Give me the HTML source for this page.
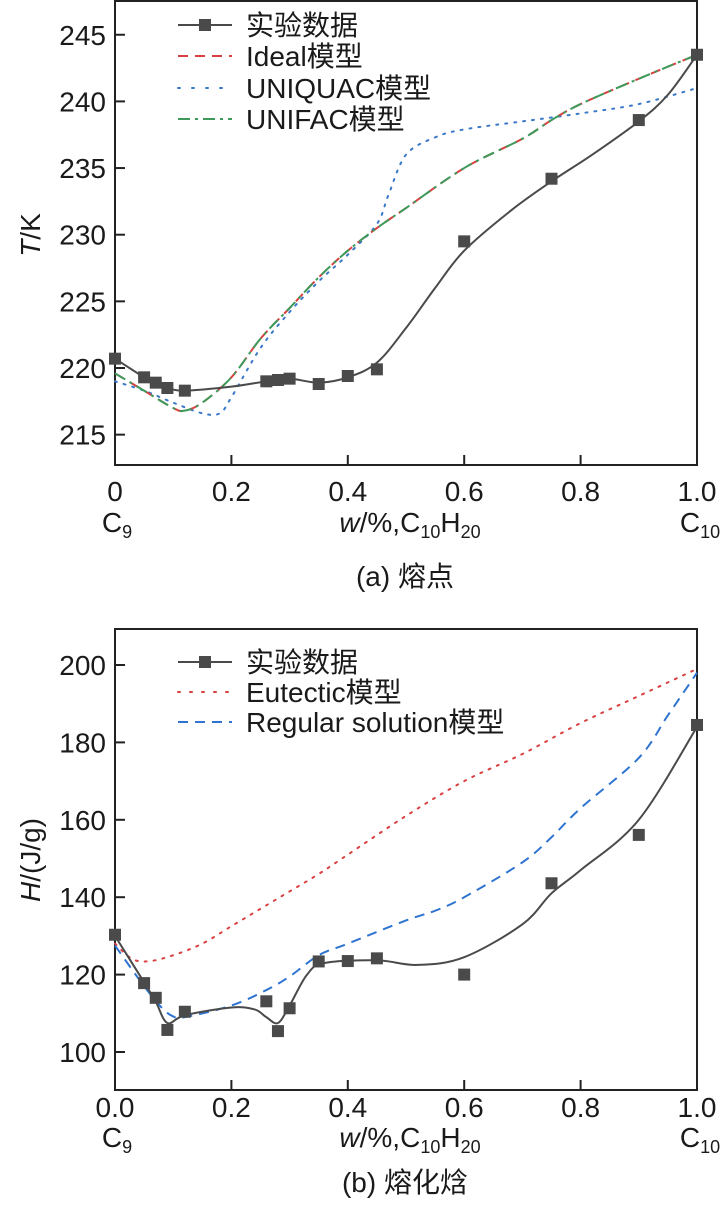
<!DOCTYPE html>
<html><head><meta charset="utf-8">
<style>
html,body{margin:0;padding:0;background:#fff;}
svg{display:block;}
text{font-family:"Liberation Sans","Noto Sans CJK SC",sans-serif;fill:#1a1a1a;}
</style></head>
<body>
<svg id="chart" width="727" height="1214" viewBox="0 0 727 1214" xmlns="http://www.w3.org/2000/svg"></svg>
<script>
// ---- Chart (a) data ----
const aExpX = [0,0.05,0.07,0.09,0.12,0.26,0.28,0.30,0.35,0.40,0.45,0.6,0.75,0.9,1.0];
const aExpT = [220.7,219.3,218.9,218.5,218.3,219.0,219.1,219.2,218.8,219.4,219.9,229.5,234.2,238.6,243.5];
const aFitX = [0,0.05,0.07,0.09,0.12,0.2,0.26,0.3,0.35,0.4,0.45,0.5,0.55,0.6,0.68,0.75,0.82,0.9,0.95,1.0];
const aFitT = [220.7,219.3,218.8,218.5,218.3,218.6,219.0,219.2,218.9,219.3,220.4,223.0,226.0,228.8,231.8,234.0,236.0,238.5,240.5,243.5];
const aIdealX = [0,0.05,0.1,0.12,0.15,0.2,0.25,0.3,0.35,0.4,0.45,0.5,0.6,0.7,0.75,0.8,0.9,1.0];
const aIdealT = [219.6,218.3,217.0,216.8,217.4,219.3,222.2,224.5,226.8,228.8,230.5,232.0,235.0,237.2,238.6,239.8,241.7,243.5];
const aUniquacX = [0,0.05,0.1,0.15,0.18,0.2,0.25,0.3,0.35,0.4,0.45,0.47,0.5,0.55,0.6,0.7,0.8,0.9,1.0];
const aUniquacT = [219.0,218.3,217.4,216.6,216.6,217.8,221.5,224.2,226.5,228.5,230.8,233.0,236.0,237.3,237.9,238.5,239.1,239.8,241.0];
const aYTicks = [215,220,225,230,235,240,245];
const xTickVals = [0,0.2,0.4,0.6,0.8,1.0];
const aXTickLabels = ["0","0.2","0.4","0.6","0.8","1.0"];
// ---- Chart (b) data ----
const bExpX = [0,0.05,0.07,0.09,0.12,0.26,0.28,0.30,0.35,0.40,0.45,0.6,0.75,0.9,1.0];
const bExpH = [130.3,117.8,114.0,105.7,110.4,113.1,105.4,111.3,123.4,123.5,124.2,120.0,143.6,156.1,184.5];
const bFitX = [0,0.05,0.07,0.09,0.12,0.2,0.24,0.26,0.28,0.3,0.33,0.36,0.45,0.52,0.6,0.7,0.75,0.8,0.9,1.0];
const bFitH = [130,118,113,107.5,109.5,111.5,111,109,107.5,112,120,123,123.7,122.5,124.5,133,141,147,160,184];
const bEutX = [0,0.03,0.06,0.1,0.15,0.2,0.25,0.3,0.35,0.4,0.5,0.6,0.7,0.8,0.9,1.0];
const bEutH = [128,124,123.5,125,128,132.5,137,141.5,146,151,161,170,177,185,192,199];
const bRegX = [0,0.05,0.08,0.1,0.12,0.2,0.26,0.3,0.35,0.4,0.5,0.55,0.6,0.7,0.75,0.8,0.9,0.95,1.0];
const bRegH = [127.5,117,111.5,109.2,109,112,116,119.5,125,128,134,136.5,140,149,155.5,163,176,187,198];
const bYTicks = [100,120,140,160,180,200];
const bXTickLabels = ["0.0","0.2","0.4","0.6","0.8","1.0"];

const NS="http://www.w3.org/2000/svg";
const svg=document.getElementById('chart');
function el(tag,attrs,parent){const e=document.createElementNS(NS,tag);for(const k in attrs)e.setAttribute(k,attrs[k]);(parent||svg).appendChild(e);return e;}
function smooth(pts){let d="M"+pts[0][0]+","+pts[0][1];for(let i=0;i<pts.length-1;i++){const p0=pts[Math.max(i-1,0)],p1=pts[i],p2=pts[i+1],p3=pts[Math.min(i+2,pts.length-1)];const c1x=p1[0]+(p2[0]-p0[0])/6,c1y=p1[1]+(p2[1]-p0[1])/6,c2x=p2[0]-(p3[0]-p1[0])/6,c2y=p2[1]-(p3[1]-p1[1])/6;d+=" C"+c1x+","+c1y+" "+c2x+","+c2y+" "+p2[0]+","+p2[1];}return d;}
const X0=115,X1=697;
function xs(v){return X0+v*(X1-X0);}
function ya(v){return 368-(v-220)*13.33;}
function yb(v){return 665+(200-v)*3.87;}

function frame(top,bottom,name){
  const r=el('rect',{x:X0,y:top,width:X1-X0,height:bottom-top,fill:'none',stroke:'#222','stroke-width':2});
  
  
}
function series(xsArr,ysArr,yf,style,name){
  const pts=xsArr.map((x,i)=>[xs(x),yf(ysArr[i])]);
  const p=el('path',Object.assign({d:smooth(pts),fill:'none'},style));
  
  
}
function markers(xsArr,ysArr,yf,name){
  const g=el('g',{});
  
  
  xsArr.forEach((x,i)=>{const r=el('rect',{x:xs(x)-6,y:yf(ysArr[i])-6,width:12,height:12,fill:'#4a4a4a'},g);
    
    });
}
function yAxis(ticks,yf,name){
  const g=el('g',{});
  
  
  ticks.forEach(t=>{el('line',{x1:X0,x2:X0+10,y1:yf(t),y2:yf(t),stroke:'#222','stroke-width':2},g);
    const tx=el('text',{x:X0-9,y:yf(t)+10,'text-anchor':'end','font-size':28},g);tx.textContent=t;
    
    });
}
function xAxis(labels,bottom,ly,name){
  const g=el('g',{});
  
  
  xTickVals.forEach((t,i)=>{el('line',{x1:xs(t),x2:xs(t),y1:bottom,y2:bottom-10,stroke:'#222','stroke-width':2},g);
    const tx=el('text',{x:xs(t),y:ly,'text-anchor':'middle','font-size':28},g);tx.textContent=labels[i];
    
    });
}
function legendRow(y,style,label,marker,name){
  const g=el('g',{});
  
  
  el('line',Object.assign({x1:178,x2:232,y1:y,y2:y},style),g);
  if(marker)el('rect',{x:199,y:y-6,width:12,height:12,fill:'#4a4a4a'},g);
  const t=el('text',{x:246,y:y+10,'font-size':28},g);t.textContent=label;
}

// ===== Chart (a) =====
frame(1,465,'plot-frame-a');
yAxis(aYTicks,ya,'y-axis-a');
xAxis(aXTickLabels,465,501,'x-axis-a');
series(aUniquacX,aUniquacT,ya,{stroke:'#3a78c8','stroke-width':2,'stroke-dasharray':'2,7','stroke-linecap':'round'},'uniquac-line');
series(aIdealX,aIdealT,ya,{stroke:'#d94040','stroke-width':2,'stroke-dasharray':'10,7'},'ideal-line');
series(aIdealX,aIdealT,ya,{stroke:'#3d9a5a','stroke-width':2,'stroke-dasharray':'12,5,3,5'},'unifac-line');
series(aFitX,aFitT,ya,{stroke:'#4a4a4a','stroke-width':2},'experimental-fit-line');
markers(aExpX,aExpT,ya,'experimental-points-a');
legendRow(25,{stroke:'#4a4a4a','stroke-width':2},'实验数据',true,'legend-experimental');
legendRow(56,{stroke:'#d94040','stroke-width':2,'stroke-dasharray':'10,7'},'Ideal模型',false,'legend-ideal');
legendRow(88,{stroke:'#3a78c8','stroke-width':2,'stroke-dasharray':'2,12','stroke-linecap':'round'},'UNIQUAC模型',false,'legend-uniquac');
legendRow(119,{stroke:'#3d9a5a','stroke-width':2,'stroke-dasharray':'12,5,3,5'},'UNIFAC模型',false,'legend-unifac');
</script>
<script>
(function(){
function txt(x,y,html,size,anchor,name,rot){
  const t=document.createElementNS("http://www.w3.org/2000/svg",'text');
  t.setAttribute('x',x);t.setAttribute('y',y);t.setAttribute('font-size',size);
  t.setAttribute('text-anchor',anchor);
  if(rot)t.setAttribute('transform',rot);
  t.innerHTML=html;
  
  
  document.getElementById('chart').appendChild(t);
}
const sub='<tspan font-size="18" dy="6">';
txt(117,532,'C'+sub+'9</tspan>',28,'middle','x-left-label-a');
txt(700,532,'C'+sub+'10</tspan>',28,'middle','x-right-label-a');
txt(410,532,'<tspan font-style="italic">w</tspan>/%,C'+sub+'10</tspan><tspan dy="-6">H</tspan>'+sub+'20</tspan>',28,'middle','x-axis-title-a');
txt(405,586,'(a) 熔点',28,'middle','caption-a');
txt(40,235,'<tspan font-style="italic">T</tspan>/K',28,'middle','y-axis-title-a','rotate(-90 40 235)');
txt(117,1147,'C'+sub+'9</tspan>',28,'middle','x-left-label-b');
txt(700,1147,'C'+sub+'10</tspan>',28,'middle','x-right-label-b');
txt(410,1147,'<tspan font-style="italic">w</tspan>/%,C'+sub+'10</tspan><tspan dy="-6">H</tspan>'+sub+'20</tspan>',28,'middle','x-axis-title-b');
txt(405,1192,'(b) 熔化焓',28,'middle','caption-b');
txt(40,860,'<tspan font-style="italic">H</tspan>/(J/g)',28,'middle','y-axis-title-b','rotate(-90 40 860)');
})();
</script>
<script>
// ===== Chart (b) =====
frame(629,1090,'plot-frame-b');
yAxis(bYTicks,yb,'y-axis-b');
xAxis(bXTickLabels,1090,1117,'x-axis-b');
series(bEutX,bEutH,yb,{stroke:'#d94040','stroke-width':2,'stroke-dasharray':'2,7','stroke-linecap':'round'},'eutectic-line');
series(bRegX,bRegH,yb,{stroke:'#2f74d0','stroke-width':2,'stroke-dasharray':'10,7'},'regular-solution-line');
series(bFitX,bFitH,yb,{stroke:'#4a4a4a','stroke-width':2},'experimental-fit-line-b');
markers(bExpX,bExpH,yb,'experimental-points-b');
legendRow(662,{stroke:'#4a4a4a','stroke-width':2},'实验数据',true,'legend-experimental-b');
legendRow(692,{stroke:'#d94040','stroke-width':2,'stroke-dasharray':'2,10','stroke-linecap':'round'},'Eutectic模型',false,'legend-eutectic');
legendRow(722,{stroke:'#2f74d0','stroke-width':2,'stroke-dasharray':'10,7'},'Regular solution模型',false,'legend-regular-solution');
</script>
</body></html>
